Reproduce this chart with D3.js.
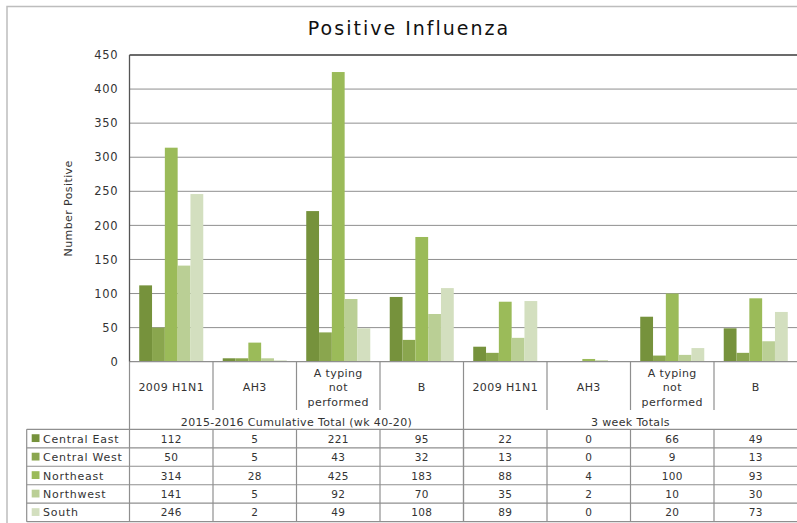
<!DOCTYPE html>
<html><head><meta charset="utf-8">
<script src="https://cdn.jsdelivr.net/npm/d3@7"></script>
<style>
html,body{margin:0;padding:0;background:#fff;}
svg{display:block;font-family:"DejaVu Sans",sans-serif;}
</style></head>
<body><svg id="c" width="797" height="523"></svg>
<script>
const title = "Positive Influenza";
const yLabel = "Number Positive";
const types = [["2009 H1N1"],["AH3"],["A typing","not","performed"],["B"],["2009 H1N1"],["AH3"],["A typing","not","performed"],["B"]];
const groups = ["2015-2016 Cumulative Total (wk 40-20)","3 week Totals"];
const regions = ["Central East","Central West","Northeast","Northwest","South"];
const colors = ["#76923c","#8aa64e","#9bbb59","#bacf95","#d3dfbf"];
const centralEast = [112,5,221,95,22,0,66,49];
const centralWest = [50,5,43,32,13,0,9,13];
const northeast = [314,28,425,183,88,4,100,93];
const northwest = [141,5,92,70,35,2,10,30];
const south = [246,2,49,108,89,0,20,73];
const yTicks = [0,50,100,150,200,250,300,350,400,450];
const series = [centralEast,centralWest,northeast,northwest,south];

const svg = d3.select("#c");
const W = 797, H = 523;
const L = 129.5, R = 797.5, T = 55, B = 361.7;
const tableTop = 429.3, rowH = 18.48, legL = 26.7;
const headBottom = 410;

// outer border
svg.append("path").attr("d",`M7,${H+5}V6.5H${W+5}`).attr("fill","none").attr("stroke","#bdbdbd").attr("stroke-width",1.5);

const idx = d3.range(types.length);
const x0 = d3.scaleBand().domain(idx).range([L,R]);
const x1 = d3.scaleBand().domain(d3.range(regions.length)).range([0,x0.bandwidth()]).paddingOuter(0.76);
const y = d3.scaleLinear().domain([0,450]).range([B,T]);

// grid
svg.append("g").selectAll("line").data(yTicks.filter(t=>t>0&&t<450)).join("line")
  .attr("x1",L).attr("x2",R).attr("y1",d=>y(d)).attr("y2",d=>y(d))
  .attr("stroke","#8f8f8f").attr("stroke-width",1);
svg.append("line").attr("x1",L).attr("x2",R).attr("y1",y(450)).attr("y2",y(450)).attr("stroke","#3a3a3a").attr("stroke-width",1.5);

// bars
const bg = svg.append("g");
series.forEach((vals,si)=>{
  bg.selectAll(null).data(vals).join("rect")
    .attr("x",(d,i)=>x0(i)+x1(si))
    .attr("width",x1.bandwidth())
    .attr("y",d=>y(d))
    .attr("height",d=>B-y(d))
    .attr("fill",colors[si]);
});

// baseline
svg.append("line").attr("x1",L).attr("x2",R).attr("y1",B).attr("y2",B).attr("stroke","#8f8f8f").attr("stroke-width",1.2);

// y axis
const ax = svg.append("g").attr("transform",`translate(${L},0)`)
  .call(d3.axisLeft(y).tickValues(yTicks).tickSize(0).tickPadding(11));
ax.select(".domain").remove();
ax.selectAll("text").attr("font-family","DejaVu Sans").attr("font-size",11.5).attr("letter-spacing",0.8).attr("fill","#333");
svg.append("line").attr("x1",L).attr("x2",L).attr("y1",T).attr("y2",B).attr("stroke","#555").attr("stroke-width",1.3);

// y label
svg.append("text").attr("transform",`translate(71.5,${(T+B)/2}) rotate(-90)`)
  .attr("text-anchor","middle").attr("font-size",11).attr("letter-spacing",0.4).attr("fill","#333").text(yLabel);

// title
svg.append("text").attr("x",409).attr("y",35).attr("text-anchor","middle")
  .attr("font-size",19).attr("letter-spacing",2).attr("fill","#111").text(title);

// table lines
const gl = "#8f8f8f";
const tg = svg.append("g");
tg.selectAll(null).data(idx.slice(1)).join("line")
  .attr("x1",d=>x0(d)).attr("x2",d=>x0(d))
  .attr("y1",B).attr("y2",d=>d===4?tableTop+rowH*5:headBottom)
  .attr("stroke",gl).attr("stroke-width",1.2);
tg.append("line").attr("x1",L).attr("x2",L).attr("y1",B).attr("y2",tableTop+rowH*5).attr("stroke",gl).attr("stroke-width",1.2);
tg.selectAll(null).data(idx.slice(1)).join("line")
  .attr("x1",d=>x0(d)).attr("x2",d=>x0(d))
  .attr("y1",tableTop).attr("y2",tableTop+rowH*5)
  .attr("stroke",gl).attr("stroke-width",1.2);
tg.append("line").attr("x1",legL).attr("x2",legL).attr("y1",tableTop).attr("y2",tableTop+rowH*5).attr("stroke",gl).attr("stroke-width",1.2);
tg.selectAll(null).data(d3.range(6)).join("line")
  .attr("x1",legL).attr("x2",R).attr("y1",d=>tableTop+rowH*d).attr("y2",d=>tableTop+rowH*d)
  .attr("stroke",gl).attr("stroke-width",1.2);

// category labels
types.forEach((lines,i)=>{
  const cx = x0(i)+x0.bandwidth()/2;
  const t = svg.append("text").attr("text-anchor","middle").attr("font-size",11).attr("letter-spacing",0.4).attr("fill","#333");
  const n = lines.length;
  lines.forEach((ln,k)=>{
    t.append("tspan").attr("x",cx).attr("y",387.3+(k-(n-1)/2)*14.2+4).text(ln);
  });
});
// group labels
groups.forEach((g,gi)=>{
  const a = x0(gi*4), b = gi===0? x0(4) : R;
  svg.append("text").attr("x",(a+b)/2).attr("y",425.5).attr("text-anchor","middle")
    .attr("font-size",11).attr("letter-spacing",0.35).attr("fill","#333").text(g);
});
// legend rows + values
regions.forEach((r,ri)=>{
  const cy = tableTop + rowH*ri + rowH/2;
  svg.append("rect").attr("x",31.7).attr("y",cy-4.3).attr("width",7.8).attr("height",7.8).attr("fill",colors[ri]);
  svg.append("text").attr("x",43).attr("y",cy+4).attr("font-size",11).attr("letter-spacing",0.75).attr("fill","#333").text(r);
  svg.append("g").selectAll("text").data(series[ri]).join("text")
    .attr("x",(d,i)=>x0(i)+x0.bandwidth()/2).attr("y",cy+4)
    .attr("text-anchor","middle").attr("font-size",10.5).attr("letter-spacing",0.3).attr("fill","#333").text(d=>d);
});
</script></body></html>
